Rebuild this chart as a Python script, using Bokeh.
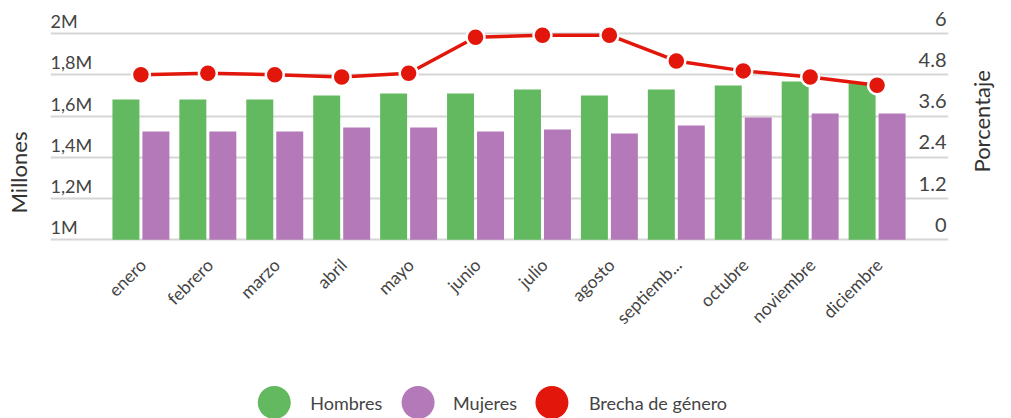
import math
from bokeh.plotting import figure
from bokeh.models import LinearAxis, Range1d, FixedTicker, ColumnDataSource, Grid
from bokeh.layouts import column
from bokeh.transform import dodge
from bokeh.core.properties import value
from bokeh.embed import file_html
from bokeh.resources import INLINE

# ---------------- data ----------------
meses = ["enero", "febrero", "marzo", "abril", "mayo", "junio", "julio",
         "agosto", "septiemb...", "octubre", "noviembre", "diciembre"]
hombres = [1.681, 1.681, 1.681, 1.700, 1.710, 1.710, 1.729, 1.700, 1.729, 1.749, 1.768, 1.760]
mujeres = [1.526, 1.526, 1.526, 1.545, 1.545, 1.526, 1.535, 1.516, 1.555, 1.594, 1.613, 1.613]
brecha = [4.81, 4.85, 4.81, 4.74, 4.85, 5.90, 5.96, 5.96, 5.21, 4.92, 4.74, 4.50]

left_ticks = [1.0, 1.2, 1.4, 1.6, 1.8, 2.0]
left_labels = ["1M", "1,2M", "1,4M", "1,6M", "1,8M", "2M"]
right_ticks = [0, 1.2, 2.4, 3.6, 4.8, 6]
right_labels = ["0", "1.2", "2.4", "3.6", "4.8", "6"]

series = ["Hombres", "Mujeres", "Brecha de género"]
colors = ["#63b95f", "#b479b8", "#e3160b"]

FONT = "Lato"
TXT = "#444444"

# ---------------- layout constants ----------------
W = 1011
BL, BR = 50, 62          # frame spans x 50..949
X0, X1 = -1.351, 12.067
Y0, Y1 = 0.5306, 2.1228  # frame spans y 8..336
P0, P1 = -2.817, 6.737

idx = list(range(len(meses)))
src = ColumnDataSource(dict(x=idx, mes=meses, hombres=hombres, mujeres=mujeres,
                            brecha=brecha, base=[1.0] * len(meses),
                            lab_y=[1.0] * len(meses)))

p = figure(width=W, height=336, x_range=Range1d(X0, X1), y_range=Range1d(Y0, Y1),
           x_axis_location=None, y_axis_location=None,
           output_backend="svg", toolbar_location=None,
           min_border_left=BL, min_border_right=BR, min_border_top=8, min_border_bottom=0)
p.outline_line_color = None
for gr in list(p.xgrid) + list(p.ygrid):
    gr.visible = False
p.extra_y_ranges = {"pct": Range1d(P0, P1)}

# axes (titles only)
lax = LinearAxis(ticker=FixedTicker(ticks=[]), axis_label="Millones")
rax = LinearAxis(ticker=FixedTicker(ticks=[]), axis_label="Porcentaje", y_range_name="pct")
rax.axis_label_orientation = math.pi / 2
for ax, so in ((lax, 19), (rax, 33)):
    ax.axis_line_color = None
    ax.major_tick_line_color = None
    ax.minor_tick_line_color = None
    ax.major_tick_out = 0
    ax.minor_tick_out = 0
    ax.axis_label_text_font = FONT
    ax.axis_label_text_font_size = "22px"
    ax.axis_label_text_font_style = "normal"
    ax.axis_label_text_color = "#333333"
    ax.axis_label_standoff = so
p.add_layout(lax, "left")
p.add_layout(rax, "right")

g = Grid(dimension=1, ticker=FixedTicker(ticks=left_ticks))
g.grid_line_color = "#d6d6d6"
g.grid_line_width = 2
p.add_layout(g)

# bars
bw = 0.403
p.vbar(x=dodge("x", -0.224, range=p.x_range), top="hombres", bottom="base", width=bw,
       source=src, fill_color=colors[0], line_color=None)
p.vbar(x=dodge("x", 0.224, range=p.x_range), top="mujeres", bottom="base", width=bw,
       source=src, fill_color=colors[1], line_color=None)

# line
p.line(x="x", y="brecha", source=src, y_range_name="pct", line_color=colors[2], line_width=3.5)
p.scatter(x="x", y="brecha", source=src, y_range_name="pct", size=18,
          fill_color=colors[2], line_color="white", line_width=2.5)

# y tick labels (above the grid lines)
p.text(x=[X0] * len(left_ticks), y=left_ticks, text=left_labels, text_font=value(FONT),
       text_font_size="18px", text_color=TXT, text_align="left",
       text_baseline="middle", y_offset=-12.5)
p.text(x=[X1] * len(right_ticks), y=right_ticks, text=right_labels, text_font=value(FONT),
       text_font_size="20px", text_color=TXT, text_align="right",
       text_baseline="middle", y_offset=-15, x_offset=-2, y_range_name="pct")

# x category labels
p.text(x="x", y="lab_y", text="mes", source=src, angle=0.785398, text_font=value(FONT),
       text_font_size="17.5px", text_color=TXT, text_align="right", text_baseline="middle",
       y_offset=22, x_offset=2)

# ---------------- legend ----------------
lg = figure(width=W, height=82, x_range=Range1d(BL, W - BR), y_range=Range1d(0, 82),
            x_axis_location=None, y_axis_location=None,
            output_backend="svg", toolbar_location=None,
            min_border_left=BL, min_border_right=BR, min_border_top=0, min_border_bottom=0)
lg.outline_line_color = None
for gr in list(lg.xgrid) + list(lg.ygrid):
    gr.visible = False
leg_cx = [274, 418, 552]
leg_tx = [310, 453, 589]
lg.scatter(x=leg_cx, y=[16] * 3, size=33, fill_color=colors, line_color=None)
lg.text(x=leg_tx, y=[16] * 3, text=series, text_font=value(FONT),
        text_font_size="18px", text_color=TXT, text_align="left", text_baseline="middle")

layout = column(p, lg, spacing=0)
open("out.html", "w").write(file_html(layout, INLINE))
